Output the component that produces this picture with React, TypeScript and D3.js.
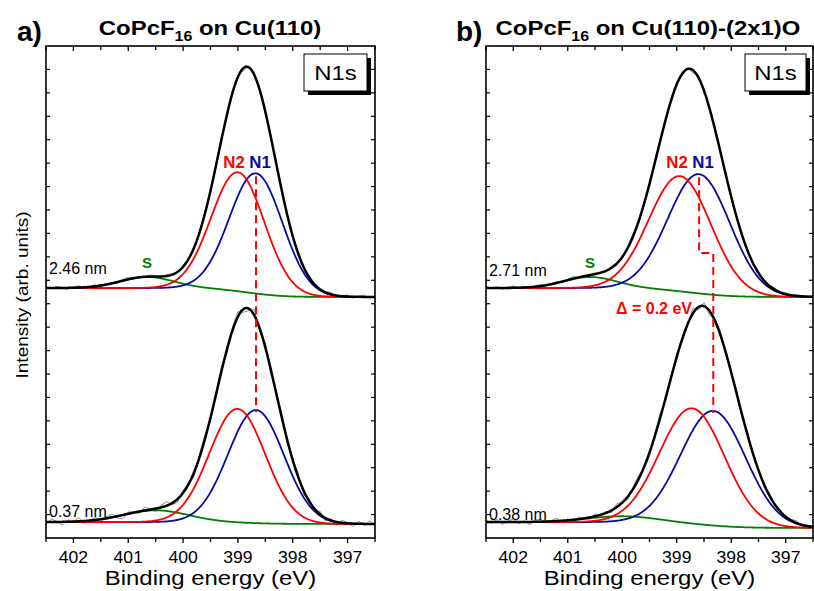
import React from 'react';
import * as d3 from 'd3';

// ---------- data ----------
const energyDomain: [number, number] = [402.5, 396.5];
const majorTicks = [402, 401, 400, 399, 398, 397];
const minorTicks = [402.5, 401.5, 400.5, 399.5, 398.5, 397.5, 396.5];
const intensityDomain: [number, number] = [0, 210];
const intensityTicks = d3.range(10, 210, 10);

// peak parameters: [center (eV), height (arb.), FWHM (eV)]
const a1N1 = [398.67, 51.3, 1.14];
const a1N2 = [399.0, 50.8, 1.14];
const a1S = [400.66, 4.7, 1.15];
const a1Bg = [106.7, 102.9]; // [high-BE level, low-BE level]

const a2N1 = [398.67, 48.3, 1.2];
const a2N2 = [399.01, 48.6, 1.2];
const a2S = [400.5, 5.0, 1.4];
const a2Bg = [6.8, 6.0];

const b1N1 = [398.59, 50.9, 1.34];
const b1N2 = [398.94, 49.2, 1.34];
const b1S = [400.59, 4.7, 1.15];
const b1Bg = [106.7, 102.9];

const b2N1 = [398.33, 49.0, 1.4];
const b2N2 = [398.72, 49.5, 1.4];
const b2S = [400.0, 2.5, 1.5];
const b2Bg = [6.8, 4.3];

// measured-minus-fit residuals of the raw spectra, 402.5 -> 396.5 eV in 0.1 eV steps
const a1Noise = [0.5,-0.4,0.7,0.1,-0.6,0.3,0.8,-0.3,0.2,0.6,-0.5,0.4,0.0,-0.7,0.5,0.9,-0.2,0.3,-0.4,0.6,0.1,-0.5,0.6,0.3,-0.3,0.8,0.2,-0.7,0.4,1.0,-0.5,0.7,1.2,-0.9,0.8,0.3,-1.1,0.6,1.4,-0.6,0.9,-1.0,0.5,1.1,-0.8,0.3,0.9,-0.4,0.7,0.1,-0.5,0.4,0.9,-0.3,0.2,0.7,-0.6,0.1,0.8,-0.4,0.3];
const a2Noise = [-0.8,1.2,0.3,-1.5,0.9,-0.4,1.6,-1.1,0.2,1.0,-1.3,0.6,1.4,-0.7,-1.6,0.8,0.3,-0.9,1.5,0.1,-1.2,0.9,1.7,-0.6,-1.4,1.1,0.4,-1.8,1.3,2.0,-1.5,0.7,2.4,-1.9,1.2,2.1,-1.3,-0.8,2.6,-1.6,1.8,-2.2,0.9,1.9,-1.4,0.6,1.5,-1.7,1.1,-0.6,1.3,-1.2,0.8,-1.5,1.0,0.4,-1.3,1.2,-0.7,1.4,-0.9];
const b1Noise = [0.6,-0.3,0.5,-0.6,0.4,0.8,-0.2,0.5,-0.5,0.3,0.7,-0.4,0.2,0.6,-0.5,0.4,0.9,-0.1,0.3,-0.6,0.5,0.2,-0.4,0.8,0.3,-0.5,0.6,1.0,-0.3,0.7,-0.8,1.1,0.4,-1.0,0.9,1.3,-0.7,0.5,-1.2,1.0,0.6,-0.9,1.2,-0.4,0.8,-0.6,0.5,1.0,-0.5,0.3,0.7,-0.3,0.4,0.8,-0.2,0.5,-0.4,0.6,0.2,-0.3,0.4];
const b2Noise = [0.9,-0.6,1.1,-1.0,0.4,1.3,-0.8,0.5,-1.2,0.7,1.0,-0.5,0.3,1.2,-0.9,0.6,-1.1,0.8,0.2,-0.7,1.1,-0.4,0.6,-1.0,1.4,0.3,-1.3,0.9,1.6,-0.8,-1.5,1.2,2.0,-1.4,0.7,1.8,-1.1,-0.6,2.2,-1.3,1.5,-1.8,0.8,1.6,-1.2,0.5,1.3,-1.5,1.8,-0.9,0.7,-1.4,1.1,-0.6,0.9,-1.2,0.5,1.0,-0.8,0.4,-0.5];

const thicknessLabels = ['2.46 nm', '0.37 nm', '2.71 nm', '0.38 nm'];
const xTickLabels = ['402', '401', '400', '399', '398', '397'];

// ---------- colours ----------
const RED = '#ff0000';
const BLUE = '#0a0a9a';
const GREEN = '#008000';
const GRAY = '#8c8c8c';
const FONT = "'Liberation Sans', Arial, Helvetica, sans-serif";

// ---------- model ----------
const gauss = (p: number[], e: number) => p[1] * Math.exp((-4 * Math.LN2 * (e - p[0]) ** 2) / (p[2] * p[2]));

function buildSpectrum(n1: number[], n2: number[], s: number[], bg: number[], noise: number[]) {
  const step = 0.01;
  const es = d3.range(396.5, 402.5 + step / 2, step); // ascending
  const main = es.map((e) => gauss(n1, e) + gauss(n2, e));
  const cum: number[] = [];
  let acc = 0;
  main.forEach((v, i) => {
    acc += v;
    cum[i] = acc;
  });
  const total = acc;
  const bgArr = es.map((_, i) => bg[1] + (bg[0] - bg[1]) * (cum[i] / total));
  const bgInterp = d3.scaleLinear().domain(es).range(bgArr);
  const green = es.map((e, i) => [e, bgArr[i] + gauss(s, e)]);
  const red = es.map((e, i) => [e, bgArr[i] + gauss(n2, e)]);
  const blue = es.map((e, i) => [e, bgArr[i] + gauss(n1, e)]);
  const black = es.map((e, i) => [e, bgArr[i] + gauss(n1, e) + gauss(n2, e) + gauss(s, e)]);
  const raw = noise.map((nv, i) => {
    const e = 402.5 - (i * 6) / (noise.length - 1);
    const b = bgInterp(e);
    return [e, b + gauss(n1, e) + gauss(n2, e) + gauss(s, e) + nv];
  });
  return { green, red, blue, black, raw, bgInterp };
}

function Txt(props: {
  x: number; y: number; size: number; sx?: number; anchor?: string; weight?: string; fill?: string; rotate?: number; children: React.ReactNode;
}) {
  const { x, y, size, sx = 1, anchor = 'middle', weight = 'normal', fill = '#000', rotate, children } = props;
  return (
    <g transform={`translate(${x},${y})${rotate ? ` rotate(${rotate})` : ''} scale(${sx},1)`}>
      <text textAnchor={anchor as any} fontSize={size} fontWeight={weight} fill={fill} fontFamily={FONT}>
        {children}
      </text>
    </g>
  );
}

type PanelProps = {
  x0: number; x1: number; y0: number; y1: number;
  upper: ReturnType<typeof buildSpectrum>;
  lower: ReturnType<typeof buildSpectrum>;
  upN1: number[]; loN1: number[];
  upS: number[];
  labelUp: string; labelLo: string;
  labUpY: number; labLoY: number;
  boxX: number; boxW: number;
  step?: boolean;
};

function Panel(p: PanelProps) {
  const x = d3.scaleLinear().domain(energyDomain).range([p.x0, p.x1]);
  const y = d3.scaleLinear().domain(intensityDomain).range([p.y1, p.y0]);
  const line = d3.line<number[]>().x((d) => x(d[0])).y((d) => y(d[1])).curve(d3.curveLinear);
  const curves = (s: ReturnType<typeof buildSpectrum>, key: string) => (
    <g key={key}>
      <path d={line(s.raw)!} fill="none" stroke={GRAY} strokeWidth={1} />
      <path d={line(s.green)!} fill="none" stroke={GREEN} strokeWidth={1.8} />
      <path d={line(s.blue)!} fill="none" stroke={BLUE} strokeWidth={1.8} />
      <path d={line(s.red)!} fill="none" stroke={RED} strokeWidth={1.8} />
      <path d={line(s.black)!} fill="none" stroke="#000" strokeWidth={2.5} />
    </g>
  );
  const upTop = y(p.upper.bgInterp(p.upN1[0]) + p.upN1[1]) + 3;
  const loTop = y(p.lower.bgInterp(p.loN1[0]) + p.loN1[1]) + 2;
  const xu = x(p.upN1[0]);
  const xl = x(p.loN1[0]);
  const dashPath = p.step
    ? `M${xu},${upTop} V253 H${xl} V${loTop}`
    : `M${xl},${upTop} V${loTop}`;
  const sPeakX = x(p.upS[0]);
  const sPeakY = y(p.upper.bgInterp(p.upS[0]) + p.upS[1]);
  return (
    <g>
      {curves(p.upper, 'u')}
      {curves(p.lower, 'l')}
      <path d={dashPath} fill="none" stroke={RED} strokeWidth={2} strokeDasharray="8,5" />
      {/* frame */}
      <rect x={p.x0} y={p.y0} width={p.x1 - p.x0} height={p.y1 - p.y0} fill="none" stroke="#000" strokeWidth={1.6} />
      {/* x ticks */}
      {majorTicks.map((t) => (
        <g key={'M' + t}>
          <line x1={x(t)} x2={x(t)} y1={p.y1} y2={p.y1 + 5} stroke="#000" strokeWidth={1.3} />
          <line x1={x(t)} x2={x(t)} y1={p.y0} y2={p.y0 + 5} stroke="#000" strokeWidth={1.3} />
        </g>
      ))}
      {minorTicks.map((t) => (
        <g key={'m' + t}>
          <line x1={x(t)} x2={x(t)} y1={p.y1} y2={p.y1 + 4} stroke="#000" strokeWidth={1.3} />
          <line x1={x(t)} x2={x(t)} y1={p.y0} y2={p.y0 + 4} stroke="#000" strokeWidth={1.3} />
        </g>
      ))}
      {intensityTicks.map((t) => (
        <g key={'y' + t}>
          <line x1={p.x0} x2={p.x0 + 4} y1={y(t)} y2={y(t)} stroke="#000" strokeWidth={1.2} />
          <line x1={p.x1 - 4} x2={p.x1} y1={y(t)} y2={y(t)} stroke="#000" strokeWidth={1.2} />
        </g>
      ))}
      {majorTicks.map((t, i) => (
        <Txt key={'tl' + t} x={x(t)} y={563} size={16} sx={1.1}>
          {xTickLabels[i]}
        </Txt>
      ))}
      <Txt x={(p.x0 + p.x1) / 2} y={585} size={21} sx={1.14}>
        Binding energy (eV)
      </Txt>
      {/* N1s box */}
      <rect x={p.boxX + 4} y={58} width={p.boxW} height={37} fill="#000" />
      <rect x={p.boxX} y={54} width={p.boxW} height={37} fill="#fff" stroke="#000" strokeWidth={1} />
      <Txt x={p.boxX + p.boxW / 2} y={80} size={21} sx={1.14}>
        N1s
      </Txt>
      {/* peak labels */}
      <Txt x={x(p.upN1[0]) - 22} y={168} size={16} weight="bold" fill={RED} sx={1.05}>
        N2
      </Txt>
      <Txt x={x(p.upN1[0]) + 4} y={168} size={16} weight="bold" fill={BLUE} sx={1.05}>
        N1
      </Txt>
      <Txt x={sPeakX} y={sPeakY - 9} size={15} weight="bold" fill={GREEN}>
        S
      </Txt>
      <Txt x={p.x0 + 3} y={p.labUpY} size={16} anchor="start">
        {p.labelUp}
      </Txt>
      <Txt x={p.x0 + 3} y={p.labLoY} size={16} anchor="start">
        {p.labelLo}
      </Txt>
    </g>
  );
}

export default function App() {
  const a1 = buildSpectrum(a1N1, a1N2, a1S, a1Bg, a1Noise);
  const a2 = buildSpectrum(a2N1, a2N2, a2S, a2Bg, a2Noise);
  const b1 = buildSpectrum(b1N1, b1N2, b1S, b1Bg, b1Noise);
  const b2 = buildSpectrum(b2N1, b2N2, b2S, b2Bg, b2Noise);
  return (
    <svg width={814} height={591} style={{ position: 'absolute', left: 0, top: 0, background: '#fff' }}>
      <rect x={0} y={0} width={814} height={591} fill="#fff" />
      <Panel x0={46} x1={375} y0={46} y1={538} upper={a1} lower={a2} upN1={a1N1} loN1={a2N1} upS={a1S}
        labelUp={thicknessLabels[0]} labelLo={thicknessLabels[1]} labUpY={274} labLoY={517} boxX={304} boxW={63} />
      <Panel x0={486} x1={813} y0={46} y1={538} upper={b1} lower={b2} upN1={b1N1} loN1={b2N1} upS={b1S}
        labelUp={thicknessLabels[2]} labelLo={thicknessLabels[3]} labUpY={276} labLoY={520} boxX={745} boxW={61} step />
      <Txt x={17} y={41} size={28} weight="bold" anchor="start">a)</Txt>
      <Txt x={456} y={41} size={28} weight="bold" anchor="start">b)</Txt>
      <Txt x={210} y={35} size={21} weight="bold" sx={1.14}>
        CoPcF<tspan fontSize={14} dy={6}>16</tspan><tspan dy={-6}> on Cu(110)</tspan>
      </Txt>
      <Txt x={648} y={35} size={21} weight="bold" sx={1.14}>
        CoPcF<tspan fontSize={14} dy={6}>16</tspan><tspan dy={-6}> on Cu(110)-(2x1)O</tspan>
      </Txt>
      <Txt x={28} y={295} size={17} rotate={-90} sx={1.12}>
        Intensity (arb. units)
      </Txt>
      <Txt x={692} y={314} size={16} weight="bold" fill={RED} anchor="end">
        Δ = 0.2 eV
      </Txt>
    </svg>
  );
}
